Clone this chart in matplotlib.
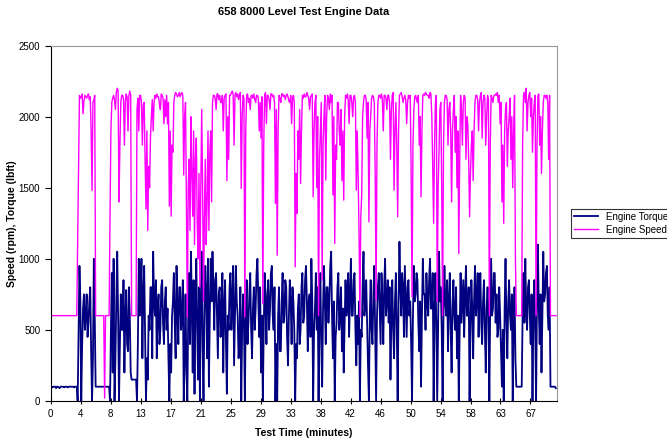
import matplotlib.pyplot as plt
import numpy as np

plt.rcParams['font.family'] = ['Liberation Sans', 'DejaVu Sans']

# values, 8 samples per minute (one row = one minute)
sample_step = 0.125

engine_speed = [
    600, 600, 600, 600, 600, 600, 600, 600,
    600, 600, 600, 600, 600, 600, 600, 600,
    600, 600, 600, 600, 600, 600, 600, 600,
    600, 600, 600, 600, 600, 600, 1100, 1560,
    2150, 2130, 2140, 2160, 2020, 2110, 2150, 2140,
    2130, 2150, 2160, 2120, 2140, 1900, 1480, 2100,
    2120, 2150, 600, 600, 600, 600, 600, 600,
    600, 600, 600, 600, 20, 600, 600, 600,
    600, 600, 1300, 1900, 2100, 2130, 2150, 2120,
    2050, 2170, 2200, 2180, 1400, 1800, 2100, 2150,
    2150, 2130, 1800, 2100, 2160, 2140, 1900, 2150,
    2180, 2150, 600, 600, 600, 600, 600, 600,
    2050, 2130, 1900, 2150, 2150, 2100, 1800, 2080,
    2100, 1700, 1350, 1900, 1200, 1650, 1500, 1850,
    2000, 2120, 1900, 2100, 2150, 2130, 2160, 2140,
    2140, 2090, 2050, 2160, 2150, 2130, 1950, 2120,
    2000, 2150, 1950, 2100, 1370, 1900, 1300, 1800,
    1750, 2100, 2150, 2170, 2160, 2140, 2150, 2170,
    2140, 2160, 2170, 2150, 1590, 2000, 2100, 1400,
    590, 1500, 1700, 1200, 2000, 1600, 1300, 1900,
    1100, 1700, 1850, 1250, 1000, 1600, 800, 1500,
    2050, 1500, 700, 1300, 1700, 1100, 1400, 1900,
    1200, 1750, 1900, 1400, 2100, 2150, 2150, 2130,
    2050, 2160, 2160, 2120, 2150, 2100, 2100, 2150,
    1900, 2130, 2150, 2160, 1550, 2000, 1700, 2150,
    2150, 2170, 2180, 2160, 1800, 2150, 2170, 2140,
    2160, 2120, 2150, 2170, 1495, 2000, 2150, 2130,
    591, 1900, 2150, 2160, 2100, 2130, 2050, 2150,
    2150, 2130, 2160, 2120, 2100, 2150, 2150, 2130,
    1900, 2100, 1850, 2140, 685, 1800, 2150, 2170,
    1950, 2150, 2150, 2120, 2050, 2160, 2160, 2140,
    2150, 2100, 1390, 2050, 1025, 1900, 2150, 2130,
    2100, 2160, 2160, 2140, 2150, 2120, 2150, 2160,
    2140, 2110, 2100, 2150, 1950, 2130, 2150, 2100,
    943, 1600, 1320, 1900, 1700, 2050, 1530, 1900,
    2150, 2130, 2160, 2140, 2140, 2170, 2150, 2130,
    2050, 2140, 2150, 2160, 1436, 1900, 2100, 2150,
    1500, 2000, 600, 1700, 1900, 2100, 850, 1800,
    2000, 2150, 1554, 2000, 2150, 2130, 2050, 2160,
    2100, 2150, 1450, 2000, 1108, 1800, 1700, 2100,
    2100, 1900, 1800, 2050, 1550, 1900, 1413, 2000,
    2150, 2130, 2160, 2120, 1950, 2150, 2150, 2100,
    2000, 2140, 2150, 2100, 1483, 1900, 1600, 1200,
    591, 1300, 1450, 2000, 2100, 2150, 2150, 2120,
    1850, 2100, 1260, 1900, 2000, 2130, 2150, 2140,
    2100, 1600, 709, 1800, 2100, 2150, 2150, 2130,
    2160, 2120, 1900, 2150, 2150, 2130, 2050, 2150,
    2150, 2100, 1700, 2050, 2150, 2170, 1483, 1900,
    2100, 1800, 1296, 1900, 2150, 2160, 2170, 2140,
    2100, 2130, 2150, 2120, 1950, 2100, 2150, 2130,
    2150, 1600, 732, 1800, 2050, 2140, 2150, 2120,
    2100, 2150, 1800, 2000, 1436, 1900, 2150, 2160,
    2150, 2170, 2160, 2150, 2150, 2130, 2170, 2160,
    2000, 1650, 1250, 1800, 2100, 2150, 700, 1500,
    1750, 2050, 2100, 1500, 600, 1800, 2100, 2150,
    2150, 2120, 1800, 2050, 2100, 1900, 1400, 1900,
    2050, 2150, 1750, 2000, 1500, 1900, 1037, 1700,
    2150, 2050, 1800, 2100, 2150, 2130, 1700, 2000,
    1950, 1700, 1296, 1600, 1800, 1900, 1550, 1900,
    2100, 2150, 2150, 2120, 1900, 2100, 2150, 2170,
    1850, 2100, 2150, 2130, 1800, 2000, 2150, 2120,
    600, 1800, 2150, 2130, 2100, 2150, 2150, 2160,
    2150, 2170, 2100, 2150, 1950, 2100, 1400, 1800,
    1250, 1900, 2050, 2100, 1650, 1900, 2000, 2130,
    1700, 2000, 1500, 1900, 2150, 1000, 600, 600,
    600, 600, 600, 600, 600, 1800, 2150, 2170,
    2100, 2200, 1900, 2100, 2150, 2170, 2000, 2130,
    1750, 2000, 2100, 2150, 600, 1800, 2150, 2160,
    1800, 2000, 1600, 1900, 2100, 2150, 2150, 2130,
    2150, 2100, 1700, 2150, 600, 600, 600, 600,
    600, 600, 600,
]

engine_torque = [
    100, 100, 95, 100, 100, 100, 90, 100,
    100, 95, 90, 100, 100, 100, 100, 95,
    100, 100, 100, 95, 100, 100, 100, 100,
    100, 100, 95, 100, 100, 100, 0, 500,
    950, 700, 0, 400, 650, 750, 500, 600,
    750, 450, 550, 700, 800, 350, 0, 300,
    1000, 600, 100, 100, 100, 100, 100, 100,
    100, 100, 100, 100, 100, 100, 100, 100,
    100, 100, 0, 500, 900, 200, 1000, 0,
    300, 700, 1050, 600, 0, 400, 750, 500,
    500, 850, 200, 600, 780, 400, 350, 800,
    600, 200, 150, 150, 150, 150, 150, 150,
    0, 400, 1000, 600, 700, 1000, 300, 750,
    950, 500, 0, 300, 150, 600, 500, 800,
    800, 300, 1050, 700, 600, 850, 300, 650,
    750, 400, 500, 800, 850, 550, 400, 700,
    800, 500, 650, 300, 0, 400, 200, 600,
    700, 900, 550, 300, 950, 650, 400, 800,
    800, 500, 600, 850, 0, 300, 750, 200,
    0, 600, 900, 400, 1050, 700, 200, 850,
    50, 650, 1000, 500, 150, 800, 0, 700,
    1050, 400, 0, 600, 950, 750, 300, 1000,
    100, 600, 1000, 700, 1050, 800, 500, 850,
    900, 600, 300, 750, 800, 450, 600, 900,
    200, 650, 850, 400, 50, 600, 500, 800,
    900, 500, 700, 950, 250, 600, 950, 700,
    600, 300, 400, 800, 0, 500, 750, 550,
    0, 600, 850, 400, 550, 750, 900, 500,
    300, 650, 800, 500, 650, 900, 1000, 700,
    450, 800, 200, 600, 0, 500, 900, 700,
    400, 750, 850, 500, 650, 900, 950, 600,
    500, 800, 0, 400, 0, 600, 800, 350,
    350, 700, 900, 550, 600, 850, 800, 450,
    250, 600, 850, 700, 400, 800, 700, 500,
    0, 400, 300, 650, 750, 400, 500, 800,
    900, 550, 600, 850, 950, 700, 350, 700,
    750, 450, 1000, 700, 0, 500, 650, 900,
    500, 800, 0, 600, 900, 400, 100, 650,
    950, 700, 400, 800, 800, 550, 700, 950,
    1050, 600, 300, 700, 0, 450, 550, 800,
    900, 500, 600, 800, 350, 650, 200, 550,
    850, 600, 700, 900, 450, 750, 1000, 600,
    600, 850, 900, 500, 250, 600, 400, 700,
    0, 500, 450, 800, 1050, 600, 700, 850,
    550, 250, 0, 600, 850, 500, 400, 750,
    950, 500, 0, 600, 800, 900, 650, 400,
    900, 700, 400, 800, 1000, 600, 700, 850,
    550, 800, 150, 600, 850, 500, 300, 700,
    900, 500, 0, 700, 1120, 800, 600, 900,
    800, 450, 950, 700, 450, 800, 850, 600,
    700, 400, 0, 600, 950, 700, 750, 900,
    850, 550, 350, 700, 100, 600, 1000, 750,
    750, 500, 900, 700, 600, 850, 1000, 650,
    650, 900, 0, 600, 900, 550, 0, 500,
    1050, 700, 800, 500, 0, 600, 950, 700,
    600, 850, 350, 700, 900, 500, 200, 650,
    850, 600, 500, 800, 300, 600, 0, 500,
    900, 550, 700, 850, 450, 750, 950, 600,
    600, 800, 0, 500, 850, 650, 300, 700,
    950, 600, 700, 900, 450, 750, 900, 550,
    400, 700, 850, 500, 200, 650, 800, 600,
    0, 700, 1000, 600, 650, 900, 900, 550,
    750, 450, 500, 800, 600, 350, 100, 500,
    0, 650, 1000, 550, 300, 700, 850, 600,
    500, 750, 0, 550, 800, 300, 100, 100,
    100, 100, 100, 100, 100, 600, 900, 550,
    1000, 650, 500, 800, 850, 600, 400, 750,
    0, 600, 850, 500, 0, 700, 1100, 650,
    400, 750, 200, 600, 1050, 700, 750, 900,
    950, 600, 500, 800, 100, 100, 100, 100,
    100, 100, 90,
]

tick_labels = ['0', '4', '8', '13', '17', '21', '25', '29', '33', '38',
               '42', '46', '50', '54', '58', '63', '67']
tick_step = 4.17  # minutes between labelled categories

minutes = np.arange(len(engine_speed)) * sample_step

fig = plt.figure(figsize=(6.67, 4.43), dpi=100)
ax = fig.add_axes([0.076, 0.095, 0.759, 0.802])

ax.plot(minutes, engine_torque, color='#000080', lw=1.3, label='Engine Torque')
ax.plot(minutes, engine_speed, color='#FF00FF', lw=1.0, label='Engine Speed')

ax.set_xlim(0, 70.4)
ax.set_ylim(0, 2500)
ax.set_xticks(np.arange(len(tick_labels)) * tick_step)
ax.set_xticklabels(tick_labels)
ax.set_yticks(np.arange(0, 2501, 500))
ax.tick_params(axis='x', direction='inout', length=5, labelsize=7, width=0.8)
ax.tick_params(axis='y', direction='out', length=4, labelsize=7, width=0.8)

for side in ['top', 'right']:
    ax.spines[side].set_color('#999999')
for side in ['left', 'bottom']:
    ax.spines[side].set_color('#000000')

ax.set_title('658 8000 Level Test Engine Data', fontsize=8, fontweight='bold', pad=22)
ax.set_xlabel('Test Time (minutes)', fontsize=7.5, fontweight='bold', labelpad=6)
ax.set_ylabel('Speed (rpm), Torque (lbft)', fontsize=7.5, fontweight='bold', labelpad=1)

leg = ax.legend(loc='center left', bbox_to_anchor=(1.018, 0.5), fontsize=7,
                frameon=True, fancybox=False, edgecolor='black',
                handlelength=2.5, borderpad=0.3, labelspacing=0.3)
leg.get_frame().set_linewidth(0.8)

plt.savefig('out.png', dpi=100)
